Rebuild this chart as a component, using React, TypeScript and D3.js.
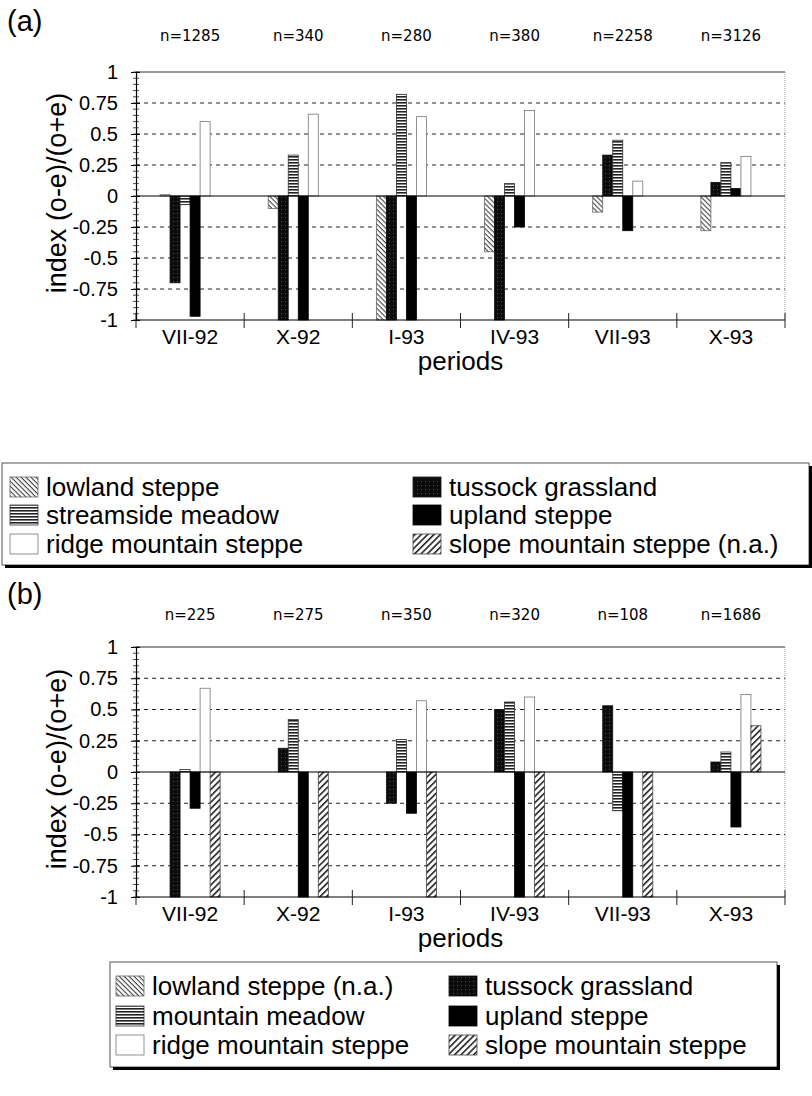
import React, { useRef, useEffect } from 'react';
import * as d3 from 'd3';

// categories and sample sizes
const periods = ['VII-92', 'X-92', 'I-93', 'IV-93', 'VII-93', 'X-93'];
const nA = [1285, 340, 280, 380, 2258, 3126];
const nB = [225, 275, 350, 320, 108, 1686];
const yTicks = [-1, -0.75, -0.5, -0.25, 0, 0.25, 0.5, 0.75, 1];

// habitat slots, in bar order inside a period
const habitats = ['lowland', 'tussock', 'meadow', 'upland', 'ridge', 'slope'];

// (a) values, null = no bar
const lowlandA = [0.01, -0.1, -1, -0.45, -0.13, -0.28];
const tussockA = [-0.7, -1, -1, -1, 0.33, 0.11];
const streamsideA = [-0.07, 0.33, 0.82, 0.1, 0.45, 0.27];
const uplandA = [-0.97, -1, -1, -0.25, -0.28, 0.06];
const ridgeA = [0.6, 0.66, 0.64, 0.69, 0.12, 0.32];
const slopeA = [null, null, null, null, null, null];

// (b) values
const lowlandB = [null, null, null, null, null, null];
const tussockB = [-1, 0.19, -0.25, 0.5, 0.53, 0.08];
const meadowB = [0.02, 0.42, 0.26, 0.56, -0.31, 0.16];
const uplandB = [-0.29, -1, -0.33, -1, -1, -0.44];
const ridgeB = [0.67, null, 0.57, 0.6, null, 0.62];
const slopeB = [-1, -1, -1, -1, -1, 0.37];

const labelsA = ['lowland steppe', 'tussock grassland', 'streamside meadow', 'upland steppe', 'ridge mountain steppe', 'slope mountain steppe (n.a.)'];
const labelsB = ['lowland steppe (n.a.)', 'tussock grassland', 'mountain meadow', 'upland steppe', 'ridge mountain steppe', 'slope mountain steppe'];

const SANS = "'Liberation Sans', Arial, sans-serif";

const panels = [
  {
    tag: '(a)', tagY: 31, top: 72, bottom: 320, nY: 41, n: nA,
    series: [lowlandA, tussockA, streamsideA, uplandA, ridgeA, slopeA],
    labels: labelsA,
    legend: { x0: 2, x1: 809, y0: 463, y1: 565, sw1: 10, sw2: 413, rows: [487, 515, 544] },
  },
  {
    tag: '(b)', tagY: 604, top: 647, bottom: 897, nY: 620, n: nB,
    series: [lowlandB, tussockB, meadowB, uplandB, ridgeB, slopeB],
    labels: labelsB,
    legend: { x0: 110, x1: 777, y0: 962, y1: 1067, sw1: 116, sw2: 449, rows: [986, 1016, 1045] },
  },
];

const App = () => {
  const ref = useRef<SVGSVGElement>(null);

  useEffect(() => {
    const svg = d3.select(ref.current);
    svg.selectAll('*').remove();

    // fill patterns
    const defs = svg.append('defs');
    const pat = (id: string, w: number, h: number, rot?: number) =>
      defs.append('pattern').attr('id', id).attr('patternUnits', 'userSpaceOnUse')
        .attr('width', w).attr('height', h)
        .attr('patternTransform', rot ? `rotate(${rot})` : null);

    const pl = pat('p-lowland', 3.5, 3.5, 45);
    pl.append('rect').attr('width', 3.5).attr('height', 3.5).attr('fill', '#fff');
    pl.append('rect').attr('width', 3.5).attr('height', 1.1).attr('fill', '#444');

    const pt = pat('p-tussock', 4, 4);
    pt.append('rect').attr('width', 4).attr('height', 4).attr('fill', '#0c0c0c');
    pt.append('rect').attr('x', 1).attr('y', 1).attr('width', 1).attr('height', 1).attr('fill', '#4a4a4a');

    const pm = pat('p-meadow', 4, 3);
    pm.append('rect').attr('width', 4).attr('height', 3).attr('fill', '#fff');
    pm.append('rect').attr('width', 4).attr('height', 1.6).attr('fill', '#222');

    const ps = pat('p-slope', 4.5, 4.5, -45);
    ps.append('rect').attr('width', 4.5).attr('height', 4.5).attr('fill', '#fff');
    ps.append('rect').attr('width', 4.5).attr('height', 1.6).attr('fill', '#222');

    const fills: Record<string, string> = {
      lowland: 'url(#p-lowland)', tussock: 'url(#p-tussock)', meadow: 'url(#p-meadow)',
      upland: '#000', ridge: '#fff', slope: 'url(#p-slope)',
    };
    const strokes: Record<string, string> = {
      lowland: '#666', tussock: '#111', meadow: '#333', upland: '#000', ridge: '#777', slope: '#444',
    };

    const x = d3.scaleBand().domain(periods).range([136, 785]).padding(0);
    const xs = d3.scaleBand().domain(habitats).range([0, x.bandwidth()]).paddingInner(0).paddingOuter(2.4);

    panels.forEach(p => {
      const y = d3.scaleLinear().domain([-1, 1]).range([p.bottom, p.top]);
      const g = svg.append('g');

      // panel tag
      g.append('text').attr('x', 7).attr('y', p.tagY).attr('font-family', SANS).attr('font-size', 29).text(p.tag);

      // n labels
      g.selectAll('.n').data(p.n).join('text')
        .attr('x', (d, i) => x(periods[i])! + x.bandwidth() / 2)
        .attr('y', p.nY).attr('text-anchor', 'middle')
        .attr('font-family', "'DejaVu Sans', sans-serif").attr('font-size', 15)
        .text(d => `n=${d}`);

      // dashed grid
      g.selectAll('.grid').data(yTicks.filter(v => Math.abs(v) > 0 && Math.abs(v) < 1)).join('line')
        .attr('x1', 136).attr('x2', 785).attr('y1', d => y(d)).attr('y2', d => y(d))
        .attr('stroke', '#222').attr('stroke-width', 1).attr('stroke-dasharray', '4,4');

      // frame: top solid, right light dotted
      g.append('line').attr('x1', 136).attr('x2', 785).attr('y1', y(1)).attr('y2', y(1))
        .attr('stroke', '#333').attr('stroke-width', 1.2);
      g.append('line').attr('x1', 785).attr('x2', 785).attr('y1', y(1)).attr('y2', y(-1))
        .attr('stroke', '#999').attr('stroke-width', 1).attr('stroke-dasharray', '1,1');

      // bars
      p.series.forEach((vals, si) => {
        const key = habitats[si];
        g.selectAll(`.bar-${key}`).data(vals.map((v, i) => ({ v, i })).filter(d => d.v !== null)).join('rect')
          .attr('x', d => x(periods[d.i])! + xs(key)!)
          .attr('width', xs.bandwidth())
          .attr('y', d => y(Math.max(0, d.v as number)))
          .attr('height', d => Math.abs(y(d.v as number) - y(0)))
          .attr('fill', fills[key])
          .attr('stroke', strokes[key]).attr('stroke-width', 0.8);
      });

      // zero line and bottom axis line
      g.append('line').attr('x1', 136).attr('x2', 785).attr('y1', y(0)).attr('y2', y(0))
        .attr('stroke', '#000').attr('stroke-width', 1.2);
      g.append('line').attr('x1', 136).attr('x2', 785).attr('y1', y(-1)).attr('y2', y(-1))
        .attr('stroke', '#000').attr('stroke-width', 1.2);

      // category boundary ticks
      const bounds = periods.map(c => x(c)!).concat([785]);
      g.selectAll('.ctick').data(bounds).join('line')
        .attr('x1', d => d).attr('x2', d => d)
        .attr('y1', y(-1) - 7).attr('y2', y(-1) + 8)
        .attr('stroke', '#222').attr('stroke-width', 1);

      // y axis
      const ax = g.append('g').attr('transform', 'translate(136,0)')
        .call(d3.axisLeft(y).tickValues(yTicks).tickSize(5).tickPadding(13).tickFormat(d => String(d)));
      ax.select('.domain').attr('stroke', '#000').attr('stroke-width', 1.2);
      ax.selectAll('text').attr('font-family', SANS).attr('font-size', 20).attr('fill', '#000');
      ax.selectAll('.tick line').attr('x2', 4).attr('x1', -5);

      // minor ticks crossing the y axis
      g.selectAll('.minor').data(d3.range(-1, 1.0001, 0.05)).join('line')
        .attr('x1', 133).attr('x2', 139).attr('y1', d => y(d)).attr('y2', d => y(d))
        .attr('stroke', '#222').attr('stroke-width', 0.8);

      // category labels
      g.selectAll('.xl').data(periods).join('text')
        .attr('x', d => x(d)! + x.bandwidth() / 2).attr('y', y(-1) + 24)
        .attr('text-anchor', 'middle').attr('font-family', SANS).attr('font-size', 21)
        .text(d => d);

      g.append('text').attr('x', (136 + 785) / 2).attr('y', y(-1) + 50)
        .attr('text-anchor', 'middle').attr('font-family', SANS).attr('font-size', 26).text('periods');

      g.append('text')
        .attr('transform', `translate(66,${(y(1) + y(-1)) / 2 - 3}) rotate(-90)`)
        .attr('text-anchor', 'middle').attr('font-family', SANS).attr('font-size', 27)
        .text('index (o-e)/(o+e)');

      // legend
      const L = p.legend;
      g.append('rect').attr('x', L.x0).attr('y', L.y0).attr('width', L.x1 - L.x0).attr('height', L.y1 - L.y0)
        .attr('fill', '#fff').attr('stroke', '#555').attr('stroke-width', 1);
      g.append('line').attr('x1', L.x0 + 3).attr('x2', L.x1 + 2).attr('y1', L.y1 + 1.5).attr('y2', L.y1 + 1.5)
        .attr('stroke', '#000').attr('stroke-width', 3);
      g.append('line').attr('x1', L.x1 + 1.5).attr('x2', L.x1 + 1.5).attr('y1', L.y0 + 3).attr('y2', L.y1 + 3)
        .attr('stroke', '#000').attr('stroke-width', 3);

      const order = [0, 2, 4, 1, 3, 5];
      order.forEach((si, k) => {
        const col = k < 3 ? 0 : 1;
        const row = k % 3;
        const sx = col === 0 ? L.sw1 : L.sw2;
        const cy = L.rows[row];
        const key = habitats[si];
        g.append('rect').attr('x', sx).attr('y', cy - 10).attr('width', 28).attr('height', 20)
          .attr('fill', fills[key]).attr('stroke', strokes[key]).attr('stroke-width', 0.8);
        g.append('text').attr('x', sx + 36).attr('y', cy + 9)
          .attr('font-family', SANS).attr('font-size', 26).text(p.labels[si]);
      });
    });
  }, []);

  return (
    <svg ref={ref} width={812} height={1096}
      style={{ position: 'absolute', left: 0, top: 0, background: '#fff', display: 'block' }} />
  );
};

export default App;
